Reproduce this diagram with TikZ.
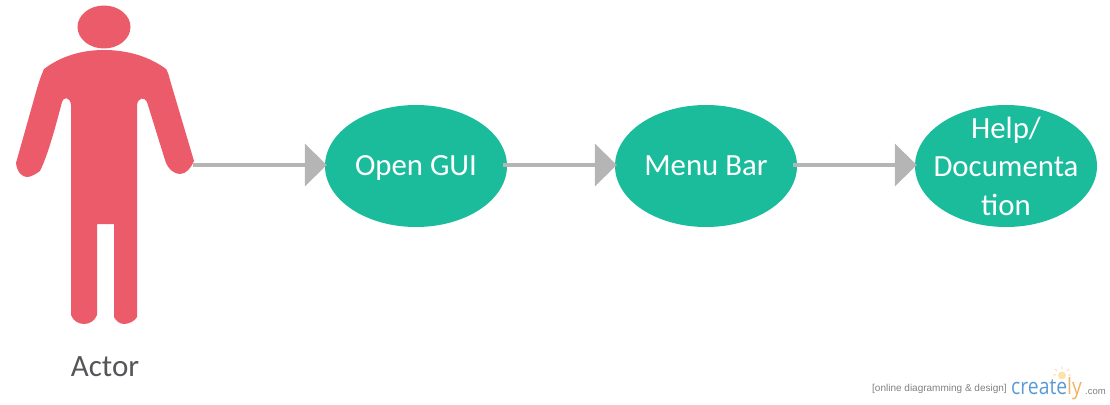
\documentclass[tikz,border=0pt]{standalone}
\usepackage{fontspec}
\setmainfont{Carlito}
\newfontfamily\logofont{Liberation Sans}
\newfontfamily\brandfont{Open Sans}
\usetikzlibrary{arrows.meta,shapes.geometric}
\definecolor{actorred}{HTML}{EC5B69}
\definecolor{caseteal}{HTML}{1ABC9C}
\definecolor{arrowgray}{HTML}{B5B5B5}
\definecolor{labelgray}{HTML}{55565A}
\definecolor{logoblue}{HTML}{5B9BD5}
\definecolor{logoorange}{HTML}{F2B266}
\definecolor{logogray}{HTML}{808080}
\tikzset{
  usecase/.style={ellipse,fill=caseteal,text=white,minimum width=182pt,minimum height=122pt,inner xsep=-20pt,inner ysep=-40pt,font=\fontsize{30.8}{38.5}\selectfont,align=center},
  flow/.style={draw=arrowgray,line width=4pt,-{Triangle[length=22pt,width=42pt,fill=arrowgray]}},
}
\begin{document}
\begin{tikzpicture}[x=1pt,y=-1pt]
\useasboundingbox (0,0) rectangle (1110,404);
% actor
\fill[actorred] (104,27) ellipse [x radius=26.5,y radius=21.5];
\fill[actorred] (104,50)
  .. controls (80,50) and (60,57) .. (44,69)
  .. controls (40,78) and (38,85) .. (36,92)
  -- (16,163)
  .. controls (17,172) and (22,177) .. (27,177)
  .. controls (31,177) and (36,174) .. (40,171)
  .. controls (48,155) and (56,125) .. (62,102)
  .. controls (63,97) and (70,96) .. (71,105)
  -- (71,315)
  .. controls (73,321) and (79,324) .. (84,324)
  .. controls (89,324) and (95,321) .. (97,315)
  -- (97,224) -- (114,224) -- (114,317)
  .. controls (116,321) and (120,324) .. (124,324)
  .. controls (129,324) and (135,321) .. (137,317)
  -- (137,105)
  .. controls (138,97) and (145,97) .. (147,102)
  -- (165,160)
  .. controls (168,170) and (175,174) .. (180,174)
  .. controls (186,174) and (191,168) .. (194,161)
  -- (170,80)
  .. controls (169,76) and (168,72) .. (166,69)
  .. controls (150,57) and (128,50) .. (104,50) -- cycle;
\coordinate (hand) at (193,165);
\node[text=labelgray,font=\fontsize{31}{36}\selectfont,inner sep=0pt] (actor) at (105,367) {Actor};
% use cases
\node[usecase] (open) at (416,166) {\raisebox{-9pt}[0pt][0pt]{Open GUI}};
\node[usecase] (menu) at (706,166) {\raisebox{-9pt}[0pt][0pt]{Menu Bar}};
\node[usecase] (help) at (1006,166) {Help/\\Documenta\\tion};
% connectors
\draw[flow] (hand) -- ([xshift=2pt,yshift=1pt]open.west);
\draw[flow] ([xshift=-4pt,yshift=1pt]open.east) -- ([xshift=2pt,yshift=1pt]menu.west);
\draw[flow] ([xshift=-4pt,yshift=1pt]menu.east) -- ([xshift=2pt,yshift=1pt]help.west);
% watermark
\node[anchor=west,inner sep=0pt,text=logogray,font=\logofont\fontsize{10}{12}\selectfont] (tag) at (872,389) {[online diagramming \& design]};
\node[anchor=base west,inner sep=0pt,text=logoblue,font=\brandfont\fontsize{22.5}{26}\selectfont,transform shape,xscale=0.86] (brand) at (1011,394) {create\textcolor{logoorange}{ly}};
\node[anchor=base west,inner sep=0pt,text=logogray,font=\logofont\fontsize{9.5}{11}\selectfont] (dotcom) at (1085,394) {.com};
\fill[yellow!30!orange!30] (1062,375.5) circle (4);
\draw[logoorange!70,line width=0.6pt] (1062,366.5)--(1062,369) (1055,369)--(1057,371) (1069,369)--(1067,371) (1053,375)--(1056,375) (1071,375)--(1068,375);
\end{tikzpicture}
\end{document}
